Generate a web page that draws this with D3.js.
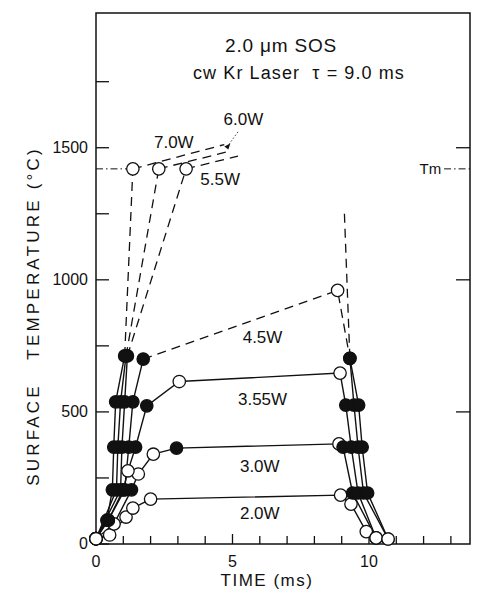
<!DOCTYPE html>
<html>
<head>
<meta charset="utf-8">
<script src="https://cdn.jsdelivr.net/npm/d3@7"></script>
<style>
  body { margin: 0; background: #fff; }
  svg text { font-family: "Liberation Sans", Arial, sans-serif; fill: #111; }
</style>
</head>
<body>
<svg id="chart" width="477" height="591"></svg>
<script>
// ---- data: [time ms, temperature C] ----
var powerLabels = ["2.0W", "3.0W", "3.55W", "4.5W", "5.5W", "6.0W", "7.0W"];
var labelPos = [[6.0, 95], [6.0, 272], [6.1, 526], [6.1, 761], [4.55, 1359], [5.4, 1586], [2.85, 1499]];

// solid curves (heating + cooling), with marker type 1 = filled, 0 = open
var w20 = [[0, 20], [0.5, 34], [1.1, 102], [1.35, 136], [2.0, 170], [8.96, 185], [9.34, 151], [9.9, 47]];
var f20 = [0, 0, 0, 0, 0, 0, 0, 0];
var w30 = [[0, 20], [0.66, 76], [1.3, 205], [1.55, 265], [2.1, 340], [2.95, 363], [8.9, 379], [9.05, 367], [9.4, 193], [10.26, 23]];
var f30 = [0, 0, 1, 0, 0, 1, 0, 1, 1, 0];
var w355 = [[0, 20], [0.45, 90], [1.0, 205], [1.17, 277], [1.45, 367], [1.86, 523], [3.05, 615], [8.94, 647], [9.15, 526], [9.35, 367], [9.6, 193], [10.26, 23]];
var f355 = [0, 1, 1, 0, 1, 1, 0, 0, 1, 1, 1, 0];
var w45 = [[0, 20], [0.45, 90], [1.05, 205], [1.2, 367], [1.35, 538], [1.73, 700]];
var f45 = [0, 1, 1, 1, 1, 1];
var w45cool = [[9.3, 703], [9.45, 526], [9.6, 367], [9.8, 193], [10.7, 19]];
var f45cool = [1, 1, 1, 1, 0];
var w55 = [[0, 20], [0.9, 205], [0.95, 367], [1.05, 538], [1.15, 712]];
var w60 = [[0, 20], [0.75, 205], [0.8, 367], [0.9, 538], [1.1, 712]];
var w70 = [[0, 20], [0.4, 90], [0.6, 205], [0.65, 367], [0.72, 538], [1.05, 712]];
var fMelt = [0, 1, 1, 1, 1, 1];
var wMeltCool = [[9.3, 703], [9.62, 526], [9.75, 367], [9.95, 193], [10.7, 19]];
var fMeltCool = [1, 1, 1, 1, 0];

// dashed parts
var d45 = [[1.73, 700], [8.85, 960], [9.3, 703]];
var d55 = [[1.15, 712], [3.3, 1420]];
var d60 = [[1.1, 712], [2.3, 1420]];
var d70 = [[1.05, 712], [1.35, 1420]];
var dMeltCool = [[9.1, 1250], [9.3, 703]];
var ext55 = [[3.3, 1420], [5.2, 1468]];
var ext60 = [[2.3, 1420], [4.95, 1488]];
var ext70 = [[1.35, 1420], [4.7, 1512]];
var meltPeaks = [[1.35, 1420], [2.3, 1420], [3.3, 1420], [8.85, 960]];

var Tm = 1420;
var yTicksMajor = [0, 500, 1000, 1500];
var yTicksMinor = [250, 750, 1250, 1750];
var xTicksMajor = [0, 5, 10];
var xTicksAll = d3.range(0, 14);

// ---- layout ----
var svg = d3.select("#chart");
var x = d3.scaleLinear().domain([0, 13.7]).range([96, 470]);
var y = d3.scaleLinear().domain([0, 2010]).range([544, 13]);
var line = d3.line().x(function (d) { return x(d[0]); }).y(function (d) { return y(d[1]); });

// frame
svg.append("rect")
    .attr("x", x(0)).attr("y", y(2010))
    .attr("width", x(13.7) - x(0)).attr("height", y(0) - y(2010))
    .attr("fill", "none").attr("stroke", "#111").attr("stroke-width", 1.5);

// ticks (inward)
var ticks = svg.append("g").attr("stroke", "#111").attr("stroke-width", 1.3);
ticks.selectAll(".ym").data(yTicksMajor.concat(yTicksMinor)).enter().append("line")
    .attr("x1", x(0)).attr("x2", x(0) + 13)
    .attr("y1", function (d) { return y(d); }).attr("y2", function (d) { return y(d); });
ticks.selectAll(".yr").data([500, 1000, 1500]).enter().append("line")
    .attr("x1", x(13.7)).attr("x2", x(13.7) - 14)
    .attr("y1", function (d) { return y(d); }).attr("y2", function (d) { return y(d); });
ticks.selectAll(".xm").data(xTicksAll).enter().append("line")
    .attr("x1", function (d) { return x(d); }).attr("x2", function (d) { return x(d); })
    .attr("y1", y(0)).attr("y2", function (d) { return y(0) - (xTicksMajor.indexOf(d) >= 0 ? 10 : 8); });

// tick labels
svg.selectAll(".ylab").data(yTicksMajor).enter().append("text")
    .attr("x", 88).attr("y", function (d) { return y(d) + 5; })
    .attr("text-anchor", "end").style("font-size", "16px")
    .text(function (d) { return d; });
svg.selectAll(".xlab").data(xTicksMajor).enter().append("text")
    .attr("x", function (d) { return x(d); }).attr("y", 567)
    .attr("text-anchor", "middle").style("font-size", "16px")
    .text(function (d) { return d; });

// axis titles
svg.append("text").attr("x", 267).attr("y", 586).attr("text-anchor", "middle")
    .style("font-size", "17px").style("letter-spacing", "1.5px").attr("xml:space", "preserve")
    .text("TIME (ms)");
svg.append("text").attr("transform", "translate(39,316) rotate(-90)").attr("text-anchor", "middle")
    .style("font-size", "17px").style("letter-spacing", "3.2px").attr("xml:space", "preserve")
    .text("SURFACE   TEMPERATURE (°C)");

// titles
svg.append("text").attr("x", 281).attr("y", 52).attr("text-anchor", "middle")
    .style("font-size", "19px").style("letter-spacing", "0.8px").attr("xml:space", "preserve")
    .text("2.0 μm SOS");
svg.append("text").attr("x", 299).attr("y", 79).attr("text-anchor", "middle")
    .style("font-size", "18px").style("letter-spacing", "1.1px").attr("xml:space", "preserve")
    .text("cw Kr Laser  τ = 9.0 ms");

// Tm dash-dot line
var tmG = svg.append("g").attr("stroke", "#111").attr("stroke-width", 1)
    .attr("stroke-dasharray", "7,3,1.5,3").attr("fill", "none");
tmG.append("line").attr("x1", x(0)).attr("x2", x(1.35) - 6).attr("y1", y(Tm)).attr("y2", y(Tm));
tmG.append("line").attr("x1", x(12.75)).attr("x2", x(13.7)).attr("y1", y(Tm)).attr("y2", y(Tm));
svg.append("text").attr("x", x(12.25)).attr("y", y(Tm) + 5).attr("text-anchor", "middle")
    .style("font-size", "15px").text("Tm");

// curves
var solid = [w20, w30, w355, w45, w45cool, w55, w60, w70, wMeltCool];
var dashed = [d45, d55, d60, d70, dMeltCool, ext55, ext60, ext70];
svg.append("g").selectAll("path").data(solid).enter().append("path")
    .attr("d", line).attr("fill", "none").attr("stroke", "#111").attr("stroke-width", 1.4);
svg.append("g").selectAll("path").data(dashed).enter().append("path")
    .attr("d", line).attr("fill", "none").attr("stroke", "#111").attr("stroke-width", 1.3)
    .attr("stroke-dasharray", "9,6");

// markers
var markerSets = [[w20, f20], [w30, f30], [w355, f355], [w45, f45], [w45cool, f45cool],
    [w55, fMelt], [w60, fMelt], [w70, fMelt], [wMeltCool, fMeltCool]];
var pts = [];
markerSets.forEach(function (s) {
    s[0].forEach(function (p, i) { pts.push({ t: p[0], T: p[1], filled: s[1][i] }); });
});
meltPeaks.forEach(function (p) { pts.push({ t: p[0], T: p[1], filled: 0 }); });
pts.sort(function (a, b) { return a.filled - b.filled; });
svg.append("g").selectAll("circle").data(pts).enter().append("circle")
    .attr("cx", function (d) { return x(d.t); }).attr("cy", function (d) { return y(d.T); })
    .attr("r", 6.2)
    .attr("fill", function (d) { return d.filled ? "#111" : "#fff"; })
    .attr("stroke", "#111").attr("stroke-width", 1.3);

// power labels
svg.selectAll(".plab").data(powerLabels).enter().append("text")
    .attr("x", function (d, i) { return x(labelPos[i][0]); })
    .attr("y", function (d, i) { return y(labelPos[i][1]); })
    .attr("text-anchor", "middle").style("font-size", "17px")
    .text(function (d) { return d; });

// dotted pointer from 6.0W label
svg.append("line").attr("x1", x(5.2)).attr("y1", y(1560)).attr("x2", x(4.78)).attr("y2", y(1500))
    .attr("stroke", "#111").attr("stroke-width", 0.8).attr("stroke-dasharray", "1.5,2");
svg.append("path")
    .attr("d", "M" + x(4.7) + "," + y(1505) + "l6,-3 l-2,6 z")
    .attr("fill", "#111");
</script>
</body>
</html>
